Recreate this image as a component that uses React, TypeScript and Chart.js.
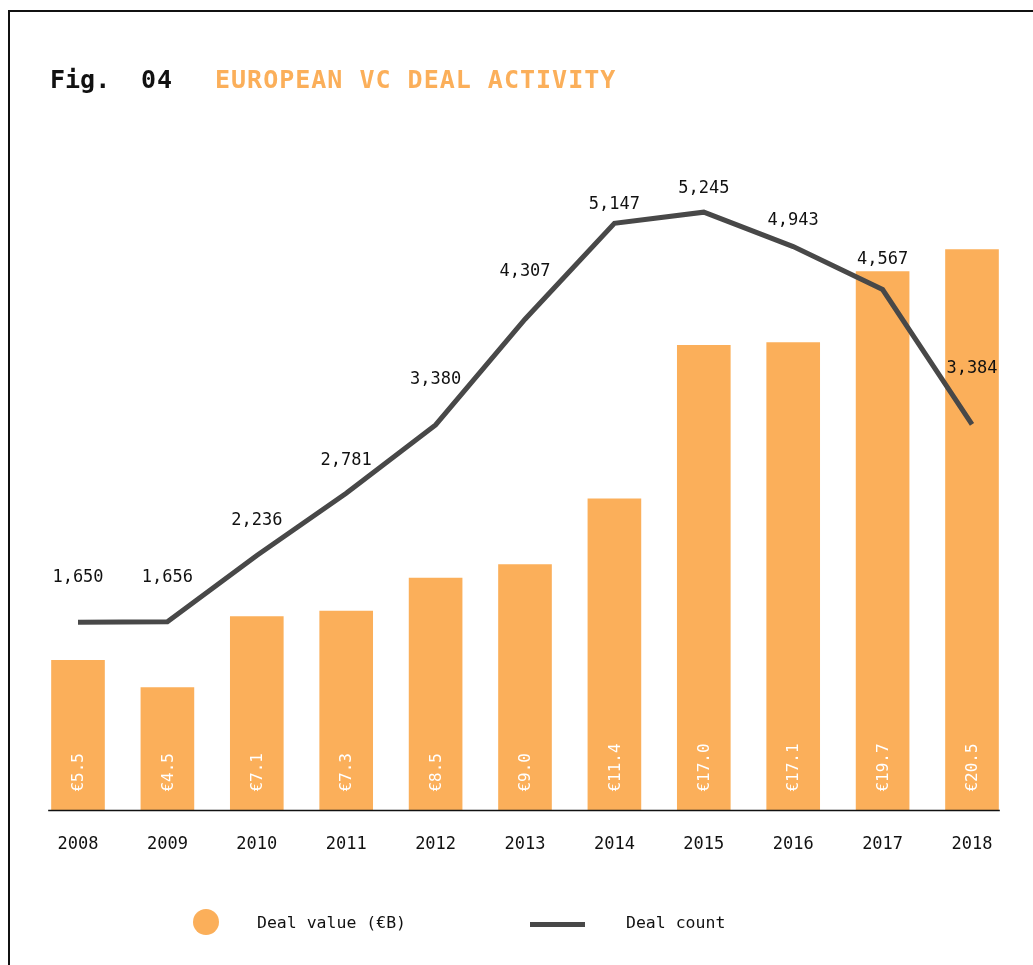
import React, { useEffect, useRef } from "react";
import { Chart, registerables } from "chart.js";

Chart.register(...registerables);

const years = ["2008", "2009", "2010", "2011", "2012", "2013", "2014", "2015", "2016", "2017", "2018"];
const dealValue = [5.5, 4.5, 7.1, 7.3, 8.5, 9.0, 11.4, 17.0, 17.1, 19.7, 20.5];
const dealCount = [1650, 1656, 2236, 2781, 3380, 4307, 5147, 5245, 4943, 4567, 3384];
const valueLabels = dealValue.map((v) => "€" + v.toFixed(1));
const countLabels = dealCount.map((v) => v.toLocaleString("en-US"));
// vertical lift (px) of each count label above its point
const countLabelLift = [45, 44, 35, 33, 45, 48, 19, 24, 26, 30, 56];

const ORANGE = "#FBAF5A";
const DARK = "#484848";
const MONO = "'DejaVu Sans Mono', 'Liberation Mono', monospace";

const labelsPlugin = {
  id: "customLabels",
  afterDatasetsDraw(chart: any) {
    const ctx = chart.ctx;
    const barMeta = chart.getDatasetMeta(1);
    const lineMeta = chart.getDatasetMeta(0);
    const yZero = chart.scales.y.getPixelForValue(0);

    // baseline
    const first = barMeta.data[0];
    const last = barMeta.data[barMeta.data.length - 1];
    ctx.save();
    ctx.strokeStyle = "#111";
    ctx.lineWidth = 1.5;
    ctx.beginPath();
    ctx.moveTo(first.x - first.width / 2 - 3, yZero);
    ctx.lineTo(last.x + last.width / 2 + 1, yZero);
    ctx.stroke();
    ctx.restore();

    // bar labels (rotated, white)
    barMeta.data.forEach((el: any, i: number) => {
      ctx.save();
      ctx.translate(el.x + 1, yZero - 19);
      ctx.rotate(-Math.PI / 2);
      ctx.font = `16px ${MONO}`;
      ctx.fillStyle = "#ffffff";
      ctx.textAlign = "left";
      ctx.textBaseline = "middle";
      ctx.fillText(valueLabels[i], 0, 0);
      ctx.restore();
    });

    // count labels
    lineMeta.data.forEach((el: any, i: number) => {
      ctx.save();
      ctx.font = `17px ${MONO}`;
      ctx.fillStyle = "#111";
      ctx.textAlign = "center";
      ctx.textBaseline = "middle";
      ctx.fillText(countLabels[i], el.x, el.y - countLabelLift[i]);
      ctx.restore();
    });
  },
};

export default function App() {
  const ref = useRef<HTMLCanvasElement | null>(null);

  useEffect(() => {
    if (!ref.current) return;
    const chart = new Chart(ref.current, {
      type: "bar",
      data: {
        labels: years,
        datasets: [
          {
            type: "line",
            label: "Deal count",
            data: dealCount,
            yAxisID: "y2",
            borderColor: DARK,
            borderWidth: 5,
            pointRadius: 0,
            tension: 0,
            fill: false,
            order: 0,
          } as any,
          {
            type: "bar",
            label: "Deal value (€B)",
            data: dealValue,
            yAxisID: "y",
            backgroundColor: ORANGE,
            borderWidth: 0,
            barPercentage: 0.6,
            categoryPercentage: 1,
            order: 1,
          },
        ],
      },
      options: {
        responsive: false,
        animation: false,
        layout: { padding: { left: 33.3, right: 16.3, top: 126, bottom: 94 } },
        plugins: {
          legend: { display: false },
          tooltip: { enabled: false },
          title: { display: false },
        },
        scales: {
          x: {
            type: "category",
            offset: true,
            grid: { display: false },
            border: { display: false },
            ticks: {
              font: { family: MONO, size: 17 },
              color: "#111",
              padding: 16,
              maxRotation: 0,
              autoSkip: false,
            },
          },
          y: { display: false, min: 0, max: 25 },
          y2: { display: false, min: 0, max: 6000, position: "right" },
        },
      },
      plugins: [labelsPlugin],
    });
    return () => chart.destroy();
  }, []);

  return (
    <div style={{ position: "absolute", left: 0, top: 0, width: 1033, height: 965, overflow: "hidden", background: "#fff" }}>
      <div
        style={{
          position: "absolute",
          left: 8,
          top: 10,
          width: 1100,
          height: 1000,
          border: "2.5px solid #111",
          boxSizing: "border-box",
        }}
      />
      <canvas ref={ref} width={1033} height={965} style={{ position: "absolute", left: 0, top: 0 }} />
      <div
        style={{
          position: "absolute",
          left: 50,
          top: 67,
          fontFamily: MONO,
          fontWeight: "bold",
          fontSize: 25,
          lineHeight: "25px",
          whiteSpace: "nowrap",
        }}
      >
        <span style={{ position: "absolute", left: 0, color: "#111" }}>Fig.</span>
        <span style={{ position: "absolute", left: 91, color: "#111", letterSpacing: 1 }}>04</span>
        <span style={{ position: "absolute", left: 165, color: ORANGE, letterSpacing: 1 }}>EUROPEAN VC DEAL ACTIVITY</span>
      </div>
      <div style={{ position: "absolute", left: 193, top: 909, width: 26, height: 26, borderRadius: "50%", background: ORANGE }} />
      <div
        style={{
          position: "absolute",
          left: 257,
          top: 912,
          fontFamily: MONO,
          fontSize: 16.5,
          lineHeight: "22px",
          color: "#111",
          whiteSpace: "nowrap",
        }}
      >
        Deal value (€B)
      </div>
      <div style={{ position: "absolute", left: 530, top: 922, width: 55, height: 5, background: DARK }} />
      <div
        style={{
          position: "absolute",
          left: 626,
          top: 912,
          fontFamily: MONO,
          fontSize: 16.5,
          lineHeight: "22px",
          color: "#111",
          whiteSpace: "nowrap",
        }}
      >
        Deal count
      </div>
    </div>
  );
}
